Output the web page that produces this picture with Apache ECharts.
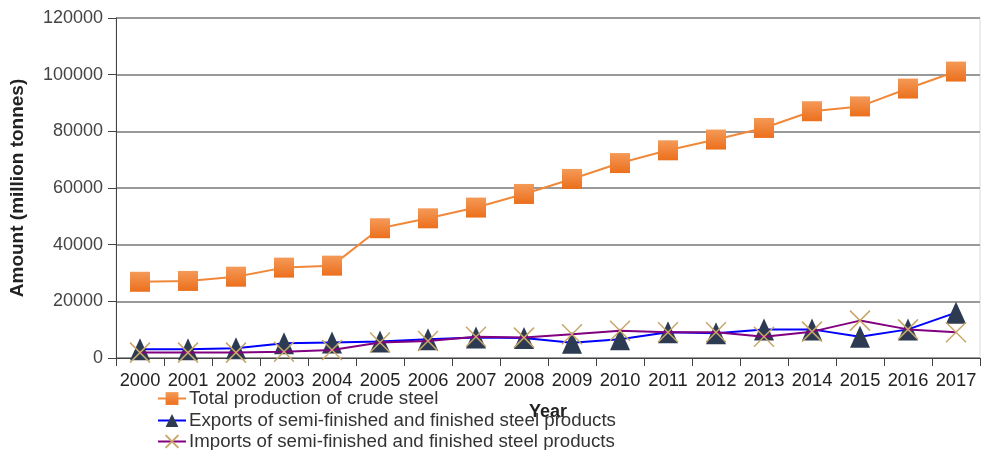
<!DOCTYPE html>
<html>
<head>
<meta charset="utf-8">
<script src="https://cdn.jsdelivr.net/npm/echarts@6/dist/echarts.min.js"></script>
<style>
  html, body { margin: 0; padding: 0; background: #fff; }
  #chart { width: 981px; height: 450px; }
</style>
</head>
<body>
<div id="chart"></div>
<script>
const years = ['2000','2001','2002','2003','2004','2005','2006','2007','2008','2009','2010','2011','2012','2013','2014','2015','2016','2017']
const crudeSteel = [26900, 27200, 28700, 31900, 32600, 45800, 49300, 53100, 57900, 63200, 68800, 73300, 77100, 81200, 87100, 88800, 95100, 101100]
const exportsSteel = [3100, 3100, 3400, 5200, 5500, 5800, 6600, 7200, 7100, 5400, 6600, 9100, 8700, 10100, 10100, 7500, 10100, 16000]
const importsSteel = [1900, 1900, 1900, 2200, 2800, 5500, 6000, 7500, 7200, 8400, 9600, 9100, 9100, 7500, 9300, 13200, 10100, 9100]
const seriesNames = [
  'Total production of crude steel',
  'Exports of semi-finished and finished steel products',
  'Imports of semi-finished and finished steel products'
]

const font = 'Liberation Sans, Arial, sans-serif'
const crossPath = 'path://M0,0L10,10M10,0L0,10'

// one legend per row so nothing wraps into columns
const legendTops = [389, 411, 432]
const legends = seriesNames.map((name, i) => ({
  orient: 'horizontal',
  left: 157, top: legendTops[i],
  itemWidth: 28, itemHeight: 16,
  itemGap: 3,
  padding: 0,
  textStyle: { fontSize: 18.7, color: '#333', fontFamily: font, padding: [0, 0, 0, -2] },
  data: [name]
}))

let myChart = echarts.init(document.getElementById('chart'))
let option = {
  animation: false,
  textStyle: { fontFamily: font },
  grid: {
    left: 116, right: 1, top: 18, bottom: 92,
    outerBoundsMode: 'none',
    containLabel: false,
    show: true, borderColor: '#d8d8d8', borderWidth: 1
  },
  legend: legends,
  xAxis: {
    type: 'category',
    data: years,
    boundaryGap: true,
    name: 'Year',
    nameLocation: 'middle',
    nameGap: 45,
    nameTextStyle: { fontWeight: 'bold', fontSize: 18, color: '#222' },
    axisLine: { lineStyle: { color: '#444', width: 1 } },
    axisTick: { show: true, length: 8, lineStyle: { color: '#444' } },
    axisLabel: { interval: 0, fontSize: 18.3, color: '#222', margin: 14 },
    splitLine: { show: false }
  },
  yAxis: {
    type: 'value',
    min: 0, max: 120000, interval: 20000,
    name: 'Amount (million tonnes)',
    nameLocation: 'middle',
    nameGap: 89,
    nameRotate: 90,
    nameTextStyle: { fontWeight: 'bold', fontSize: 19, color: '#222' },
    axisLine: { show: true, lineStyle: { color: '#444', width: 1 } },
    axisTick: { show: true, length: 8, lineStyle: { color: '#444' } },
    axisLabel: { fontSize: 18, color: '#444', margin: 13, formatter: v => String(v) },
    splitLine: { show: true, lineStyle: { color: '#999', width: 2 } }
  },
  series: [
    {
      name: seriesNames[0],
      type: 'line',
      data: crudeSteel,
      symbol: 'rect',
      symbolSize: 20,
      lineStyle: { color: '#f0883a', width: 2 },
      itemStyle: {
        color: new echarts.graphic.LinearGradient(0, 0, 0, 1, [
          { offset: 0, color: '#f49a58' },
          { offset: 1, color: '#ec6f1c' }
        ])
      },
      z: 3
    },
    {
      name: seriesNames[1],
      type: 'line',
      data: exportsSteel,
      symbol: 'triangle',
      symbolSize: [20, 22],
      lineStyle: { color: '#0000ff', width: 2 },
      itemStyle: { color: '#2d3b52' },
      z: 4
    },
    {
      name: seriesNames[2],
      type: 'line',
      data: importsSteel,
      symbol: crossPath,
      symbolSize: 20,
      lineStyle: { color: '#800080', width: 2 },
      itemStyle: { color: 'none', borderColor: '#c8a66a', borderWidth: 1.5 },
      z: 5
    }
  ]
}
myChart.setOption(option)
</script>
</body>
</html>
